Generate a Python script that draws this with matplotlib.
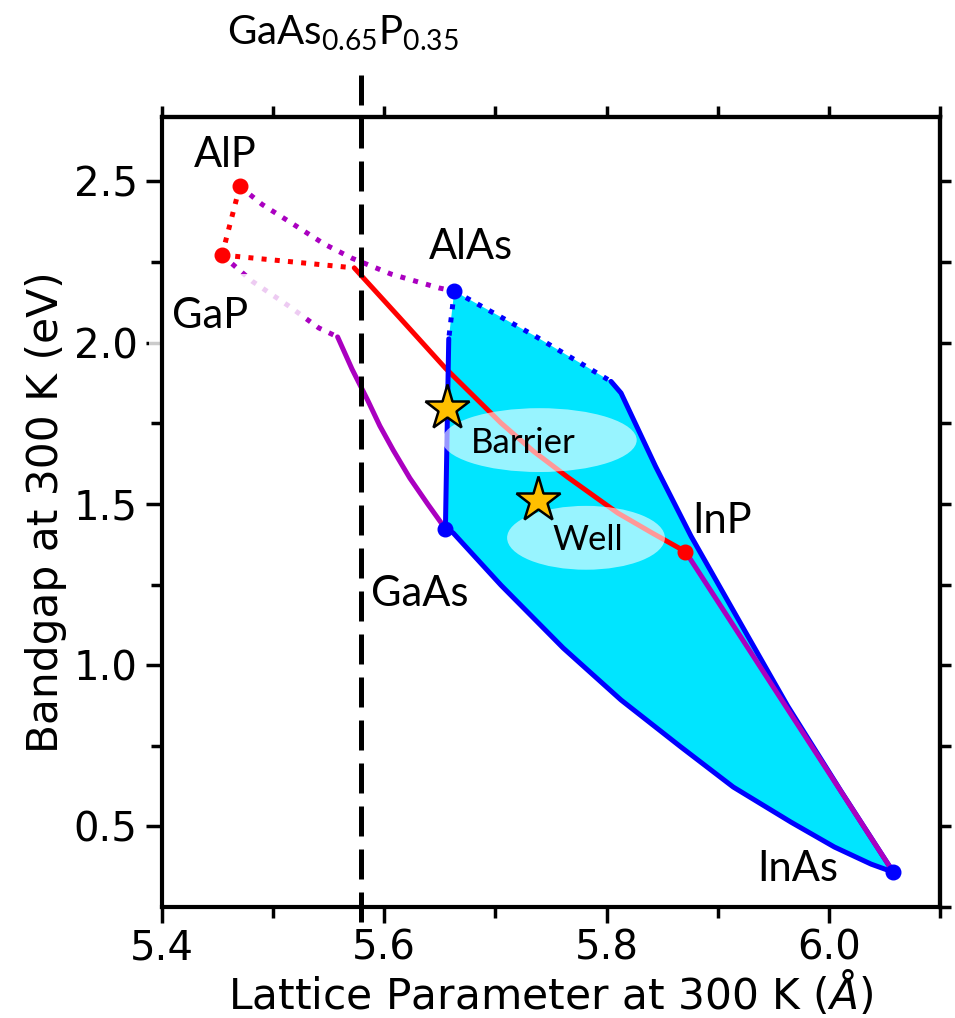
import numpy as np
import matplotlib.pyplot as plt
from matplotlib.patches import Ellipse, Rectangle

plt.rcParams['font.family'] = 'DejaVu Sans'
plt.rcParams['mathtext.fontset'] = 'custom'
plt.rcParams['mathtext.rm'] = 'Lato'
plt.rcParams['mathtext.it'] = 'DejaVu Sans:italic'

# Binary compounds: lattice parameter (A) and bandgap (eV) at 300 K
binaries = ['AlP', 'GaP', 'AlAs', 'GaAs', 'InP', 'InAs']
bin_a = [5.470, 5.454, 5.663, 5.655, 5.871, 6.058]
bin_eg = [2.485, 2.272, 2.160, 1.423, 1.352, 0.358]
bin_color = ['red', 'red', 'blue', 'blue', 'red', 'blue']

# Ternary curves, indirect part (dotted) and direct part (solid)
algap_a = [5.470, 5.454]
algap_eg = [2.485, 2.272]
gainp_ind_a = [5.454, 5.573]
gainp_ind_eg = [2.272, 2.232]
gainp_dir_a = [5.573, 5.614, 5.655, 5.705, 5.734, 5.765, 5.810, 5.841, 5.871]
gainp_dir_eg = [2.232, 2.077, 1.921, 1.751, 1.664, 1.583, 1.472, 1.410, 1.352]
alasp_a = [5.470, 5.490, 5.517, 5.546, 5.571, 5.606, 5.649, 5.663]
alasp_eg = [2.485, 2.429, 2.370, 2.306, 2.262, 2.213, 2.170, 2.160]
gaasp_ind_a = [5.454, 5.481, 5.514, 5.541, 5.558]
gaasp_ind_eg = [2.272, 2.191, 2.114, 2.046, 2.018]
gaasp_dir_a = [5.558, 5.571, 5.585, 5.596, 5.608, 5.623, 5.639, 5.655]
gaasp_dir_eg = [2.018, 1.918, 1.822, 1.742, 1.667, 1.580, 1.500, 1.423]
inasp_a = [5.871, 6.058]
inasp_eg = [1.352, 0.358]
algaas_ind_a = [5.663, 5.658]
algaas_ind_eg = [2.160, 2.012]
algaas_dir_a = [5.658, 5.655]
algaas_dir_eg = [2.012, 1.423]
alinas_ind_a = [5.663, 5.735, 5.804]
alinas_ind_eg = [2.160, 2.022, 1.880]
alinas_dir_a = [5.804, 5.813, 5.844, 5.876, 5.921, 5.963, 6.011, 6.058]
alinas_dir_eg = [1.880, 1.844, 1.617, 1.400, 1.127, 0.873, 0.609, 0.358]
gainas_a = [5.655, 5.662, 5.705, 5.761, 5.813, 5.867, 5.914, 5.966, 6.005, 6.038, 6.058]
gainas_eg = [1.423, 1.410, 1.248, 1.053, 0.892, 0.746, 0.622, 0.513, 0.436, 0.383, 0.358]

# Substrate and target layers
substrate_a = 5.579
substrate_label = 'GaAs$_{0.65}$P$_{0.35}$'
layers = ['Barrier', 'Well']
layer_a = [5.656, 5.738]
layer_eg = [1.799, 1.512]

purple = '#AA00C0'
lw = 3.6

fig = plt.figure(figsize=(9.55, 10.18), dpi=100)
ax = fig.add_axes([162 / 955, 1 - 907 / 1018, 778 / 955, 790 / 1018])

# AlGaInAs region
poly_a = alinas_ind_a + alinas_dir_a[1:] + gainas_a[::-1][1:] + algaas_dir_a[::-1][1:] + algaas_ind_a[::-1][1:]
poly_eg = alinas_ind_eg + alinas_dir_eg[1:] + gainas_eg[::-1][1:] + algaas_dir_eg[::-1][1:] + algaas_ind_eg[::-1][1:]
ax.fill(poly_a, poly_eg, color='#00E5FF', lw=0, zorder=1)

dot = dict(lw=lw, ls=':', solid_capstyle='butt', zorder=2)
sol = dict(lw=lw, ls='-', solid_capstyle='round', solid_joinstyle='round', zorder=2)
ax.plot(algap_a, algap_eg, color='red', **dot)
ax.plot(gainp_ind_a, gainp_ind_eg, color='red', **dot)
ax.plot(gainp_dir_a, gainp_dir_eg, color='red', **sol)
ax.plot(alasp_a, alasp_eg, color=purple, **dot)
ax.plot(gaasp_ind_a, gaasp_ind_eg, color=purple, **dot)
ax.plot(gaasp_dir_a, gaasp_dir_eg, color=purple, **sol)
ax.plot(algaas_ind_a, algaas_ind_eg, color='blue', **dot)
ax.plot(algaas_dir_a, algaas_dir_eg, color='blue', **sol)
ax.plot(alinas_ind_a, alinas_ind_eg, color='blue', **dot)
ax.plot(alinas_dir_a, alinas_dir_eg, color='blue', **sol)
ax.plot(gainas_a, gainas_eg, color='blue', **sol)
ax.plot(inasp_a, inasp_eg, color=purple, **sol)

for a, eg, c in zip(bin_a, bin_eg, bin_color):
    ax.plot(a, eg, 'o', color=c, ms=10.5, zorder=3)

# substrate lattice constant
ax.plot([substrate_a, substrate_a], [0.205, 2.85], color='black', lw=3.6,
        ls=(0, (6, 2.6)), clip_on=False, zorder=2)
ax.text(substrate_a - 0.016, 2.926, substrate_label, fontsize=29, family='Lato',
        ha='center', va='baseline', clip_on=False)

# translucent highlights behind the layer labels
ax.add_patch(Ellipse((5.7396, 1.698), 0.175, 0.198, fc='white', ec='none', alpha=0.6, zorder=4))
ax.add_patch(Ellipse((5.7815, 1.395), 0.142, 0.198, fc='white', ec='none', alpha=0.6, zorder=4))
ax.plot(layer_a, layer_eg, '*', ms=34, mfc='#FFBF00', mec='black', mew=1.8, zorder=5, ls='none')
ax.text(5.725, 1.657, layers[0], fontsize=25, family='Lato', ha='center', va='baseline', zorder=6)
ax.text(5.783, 1.358, layers[1], fontsize=25, family='Lato', ha='center', va='baseline', zorder=6)

# compound labels, GaP sits on a translucent white box
ax.add_patch(Rectangle((5.388, 1.985), 0.139, 0.228, fc='white', ec='none', alpha=0.8,
                       clip_on=False, zorder=5))
lab_pos = {'AlP': (5.457, 2.546), 'AlAs': (5.678, 2.259), 'GaP': (5.443, 2.046),
           'GaAs': (5.632, 1.182), 'InP': (5.904, 1.410), 'InAs': (5.972, 0.330)}
for name in binaries:
    x, y = lab_pos[name]
    ax.text(x, y, name, fontsize=30, family='Lato', ha='center', va='baseline', zorder=6)

ax.set_xlim(5.4, 6.1)
ax.set_ylim(0.25, 2.7)
ax.set_xticks([5.4, 5.6, 5.8, 6.0])
ax.set_xticks([5.5, 5.7, 5.9, 6.1], minor=True)
ax.set_yticks([0.5, 1.0, 1.5, 2.0, 2.5])
ax.set_yticks([0.75, 1.25, 1.75, 2.25], minor=True)
ax.tick_params(which='major', length=11.5, width=2.5, labelsize=29)
ax.tick_params(axis='x', which='major', pad=4)
ax.tick_params(axis='y', which='major', pad=6)
ax.tick_params(which='minor', length=8, width=2.5)
for s in ax.spines.values():
    s.set_linewidth(3)
    s.set_zorder(7)

top = ax.secondary_xaxis('top')
top.set_xticks([5.4, 5.5, 5.6, 5.7, 5.8, 5.9, 6.0, 6.1])
top.tick_params(length=8, width=2.5, labeltop=False)
top.spines['top'].set_linewidth(3)
right = ax.secondary_yaxis('right')
right.set_yticks([0.25, 0.5, 0.75, 1.0, 1.25, 1.5, 1.75, 2.0, 2.25, 2.5])
right.tick_params(length=8, width=2.5, labelright=False)
right.spines['right'].set_linewidth(3)

ax.set_xlabel('Lattice Parameter at 300 K ($Å$)', fontsize=30.5, labelpad=0)
ax.set_ylabel('Bandgap at 300 K (eV)', fontsize=30.5, labelpad=5)

fig.savefig('out.png', dpi=100)
